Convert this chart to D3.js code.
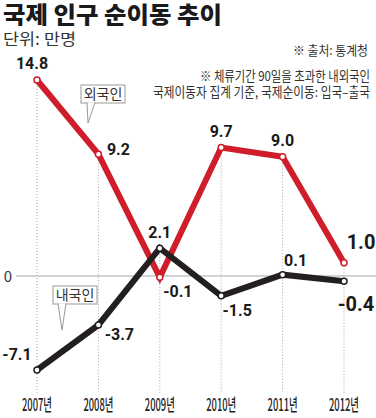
<!DOCTYPE html>
<html><head><meta charset="utf-8">
<script src="https://cdn.jsdelivr.net/npm/d3@7"></script>
<style>
html,body{margin:0;padding:0;background:#fff;}
svg{display:block;}
</style>
</head><body>
<svg id="chart" width="376" height="418"></svg>
<script>
// ---- data ----
const years = ["2007년","2008년","2009년","2010년","2011년","2012년"];
const foreigners = [14.8, 9.2, -0.1, 9.7, 9.0, 1.0];   // 외국인
const nationals  = [-7.1, -3.7, 2.1, -1.5, 0.1, -0.4]; // 내국인
const foreignLabels = ["14.8","9.2","-0.1","9.7","9.0","1.0"];
const nationalLabels = ["-7.1","-3.7","2.1","-1.5","0.1","-0.4"];

// ---- layout (label offsets from their points) ----
const foreignOff = [[-5,-11,16],[20,1,16],[18,19.5,16],[0,-11,16],[0,-11,16],[17,-14,20]];
const nationalOff = [[-20,-10,16],[21,15,16],[0,-10,16],[16,20,16],[13,-9,16],[12,29.5,20]];

const RED = "#cf1d2b", BLK = "#231f20", GRID = "#a8a8a8";
const svg = d3.select("#chart");
const x = d3.scalePoint().domain(years).range([37, 344]);
const y = d3.scaleLinear().domain([-7.1, 14.8]).range([370, 80]);
const KR = "'Noto Sans CJK KR','Noto Sans',sans-serif";
const NUM = "'Liberation Sans Narrow','Arial Narrow','Roboto',sans-serif";

// title
svg.append("text").attr("x",3).attr("y",23).attr("font-family",KR).attr("font-weight",900)
  .attr("font-size",23).attr("fill","#1a1a1a").attr("textLength",219).attr("lengthAdjust","spacingAndGlyphs")
  .text("국제 인구 순이동 추이");
svg.append("text").attr("x",3).attr("y",45).attr("font-family",KR).attr("font-size",16)
  .attr("fill","#333").attr("textLength",73).attr("lengthAdjust","spacingAndGlyphs").text("단위: 만명");
svg.append("text").attr("x",368).attr("y",55).attr("text-anchor","end").attr("font-family",KR).attr("font-size",13)
  .attr("fill","#333").attr("textLength",75).attr("lengthAdjust","spacingAndGlyphs").text("※ 출처: 통계청");
svg.append("text").attr("x",370).attr("y",81).attr("text-anchor","end").attr("font-family",KR).attr("font-size",13.5)
  .attr("fill","#333").attr("textLength",170).attr("lengthAdjust","spacingAndGlyphs").text("※ 체류기간 90일을 초과한 내외국인");
svg.append("text").attr("x",370).attr("y",97).attr("text-anchor","end").attr("font-family",KR).attr("font-size",13.5)
  .attr("fill","#333").attr("textLength",217).attr("lengthAdjust","spacingAndGlyphs").text("국제이동자 집계 기준, 국제순이동: 입국–출국");

// vertical dotted guides
years.forEach((yr,i)=>{
  const top = Math.min(y(foreigners[i]), y(nationals[i]));
  svg.append("line").attr("x1",x(yr)).attr("x2",x(yr)).attr("y1",top).attr("y2",393)
    .attr("stroke",GRID).attr("stroke-width",1).attr("stroke-dasharray","1,2");
});

// zero line
svg.append("line").attr("x1",16).attr("x2",376).attr("y1",y(0)).attr("y2",y(0))
  .attr("stroke",GRID).attr("stroke-width",1);
svg.append("text").attr("x",8).attr("y",y(0)+6).attr("text-anchor","middle").attr("font-family",KR)
  .attr("font-size",15).attr("fill","#333").text("0");

// x axis labels
years.forEach(yr=>{
  svg.append("text").attr("x",x(yr)).attr("y",411).attr("text-anchor","middle").attr("font-family",KR)
    .attr("font-size",17).attr("font-weight",500).attr("fill","#222").attr("textLength",30)
    .attr("lengthAdjust","spacingAndGlyphs").text(yr);
});

// lines
const line = d3.line().x((d,i)=>x(years[i])).y(d=>y(d));
svg.append("path").datum(foreigners).attr("d",line).attr("fill","none").attr("stroke",RED)
  .attr("stroke-width",6).attr("stroke-linejoin","miter");
svg.append("path").datum(nationals).attr("d",line).attr("fill","none").attr("stroke",BLK)
  .attr("stroke-width",6).attr("stroke-linejoin","miter");

// points
[[foreigners,RED],[nationals,BLK]].forEach(([arr,col])=>{
  svg.append("g").selectAll("circle").data(arr).join("circle")
    .attr("cx",(d,i)=>x(years[i])).attr("cy",d=>y(d)).attr("r",3)
    .attr("fill","#fff").attr("stroke",col).attr("stroke-width",1.5);
});

// value labels
function labels(arr, txt, off){
  arr.forEach((v,i)=>{
    svg.append("text").attr("x",x(years[i])+off[i][0]).attr("y",y(v)+off[i][1])
      .attr("text-anchor","middle").attr("font-family",NUM).attr("font-weight","bold")
      .attr("font-size",off[i][2]).attr("fill","#1a1a1a").text(txt[i]);
  });
}
labels(foreigners, foreignLabels, foreignOff);
labels(nationals, nationalLabels, nationalOff);

// callouts
function callout(bx,by,bw,bh,t1,t2,tip,label){
  const g = svg.append("g");
  g.append("rect").attr("x",bx).attr("y",by).attr("width",bw).attr("height",bh)
    .attr("fill","#fff").attr("stroke","#999").attr("stroke-width",1);
  g.append("path").attr("d",`M${t1},${by+bh-0.5} L${tip[0]},${tip[1]} L${t2},${by+bh-0.5}`)
    .attr("fill","#fff").attr("stroke","#999").attr("stroke-width",1);
  g.append("text").attr("x",bx+bw/2).attr("y",by+bh-4).attr("text-anchor","middle")
    .attr("font-family",KR).attr("font-size",14).attr("fill","#333").text(label);
}
callout(81,85,44,18,87,95,[88,123],"외국인");
callout(53,286,44,18,58,66,[62,330],"내국인");
</script>
</body></html>
